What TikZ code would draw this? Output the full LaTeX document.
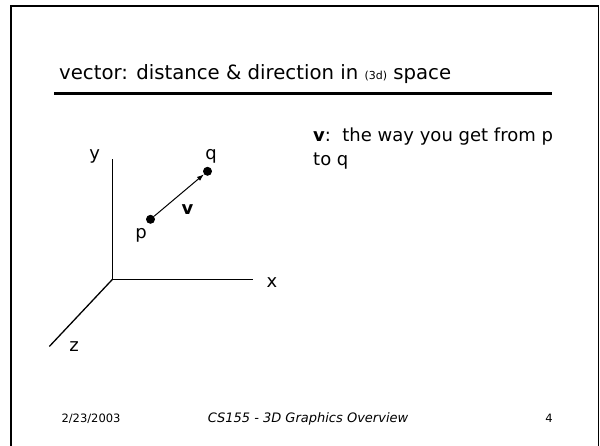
\documentclass[tikz,border=0pt]{standalone}
\usepackage{fontspec}
\setmainfont{DejaVu Sans}
\usetikzlibrary{arrows.meta, positioning}

\tikzset{
    axisline/.style={line width=1.3pt, black},
    dotnode/.style={circle, fill=black, inner sep=0pt, minimum size=9pt},
    axislabel/.style={font=\fontsize{18}{20}\selectfont, inner sep=0pt},
    footnote/.style={font=\fontsize{11.5}{13}\selectfont, anchor=base, inner sep=0pt}
}

\begin{document}
\begin{tikzpicture}[x=1pt, y=-1pt]
\useasboundingbox (0,0) rectangle (600,445);

% === slide frame ===
\draw[line width=1.7pt] (11,450) -- (11,6) -- (598.5,6) -- (598.5,450);

% === title ===
\node[anchor=base west, inner sep=0pt, font=\fontsize{19.7}{22}\selectfont] (title) at (59,79)
    {vector: distance \& direction in {\fontsize{11}{13}\selectfont (3d)} space};
\coordinate (ruleL) at (54,93.7);
\coordinate (ruleR) at (551.7,93.7);
\draw[line width=3.3pt] (ruleL) -- (ruleR);

% === axes ===
\coordinate (o) at (112.5,279.3);
\coordinate (ytip) at (112.5,159.3);
\coordinate (xtip) at (253,279.3);
\coordinate (ztip) at (49.3,346.5);
\draw[axisline] (ytip) -- (o) -- (xtip);
\draw[axisline] (o) -- (ztip);
\node[axislabel] (ylab) at (94.6,156.7) {y};
\node[axislabel] (xlab) at (272,283) {x};
\node[axislabel] (zlab) at (74,346.7) {z};

% === vector p -> q ===
\node[dotnode] (p) at (150.5,219.3) {};
\node[dotnode] (q) at (207.5,171.3) {};
\draw[line width=1pt, -{Latex[length=7pt, width=5pt]}] (p) -- (q);
\node[axislabel] (plab) at (141,235) {p};
\node[axislabel] (qlab) at (211,156.5) {q};
\node[axislabel, font=\bfseries\fontsize{18}{20}\selectfont] (vlab) at (187.5,209.5) {v};

% === explanation ===
\node[anchor=base west, inner sep=0pt, align=left, font=\fontsize{18}{23.5}\selectfont] (expl) at (313,165)
    {\textbf{v}:\ \ the way you get from p\\to q};

% === footer ===
\node[footnote] (date) at (91,422) {2/23/2003};
\node[footnote, font=\itshape\fontsize{13}{15}\selectfont] (course) at (308,422) {CS155 - 3D Graphics Overview};
\node[footnote] (page) at (549,422) {4};

\end{tikzpicture}
\end{document}
